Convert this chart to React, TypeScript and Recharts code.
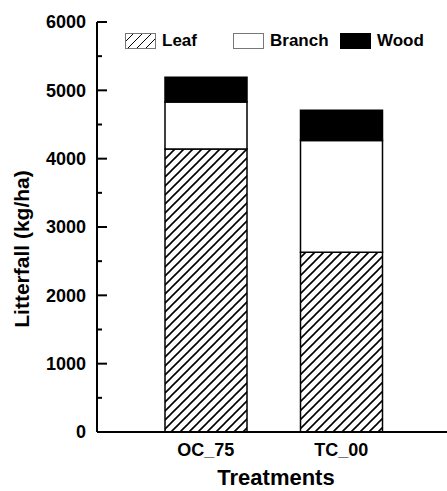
import { BarChart, Bar, XAxis, YAxis, Legend } from 'recharts';

const treatments = ['OC_75', 'TC_00'];
const leaf = [4140, 2630];
const branch = [690, 1635];
const wood = [360, 445];
const yTicks = [0, 500, 1000, 1500, 2000, 2500, 3000, 3500, 4000, 4500, 5000, 5500, 6000];

const data = treatments.map((name, i) => ({
    name,
    Leaf: leaf[i],
    Branch: branch[i],
    Wood: wood[i],
}));

const font = 'Arial, "Liberation Sans", Helvetica, sans-serif';

const LeftTick = (props: any) => {
    const { x, y, payload } = props;
    const major = payload.value % 1000 === 0;
    const ax = x + 11;
    return (
        <g>
            <line x1={ax} x2={ax + (major ? 10 : 5)} y1={y} y2={y} stroke="#000" strokeWidth={2} />
            {major && (
                <text x={x} y={y} dy="0.36em" textAnchor="end" fontFamily={font} fontWeight="bold" fontSize={18} fill="#000">
                    {payload.value}
                </text>
            )}
        </g>
    );
};

const RightTick = (props: any) => {
    const { x, y, payload } = props;
    const major = payload.value % 1000 === 0;
    return <line x1={x - (major ? 10 : 5)} x2={x} y1={y} y2={y} stroke="#000" strokeWidth={2} />;
};

const Swatch = ({ kind }: { kind: string }) => (
    <svg width={31} height={16} style={{ display: 'block' }}>
        <defs>
            <pattern id="hatchLegend" patternUnits="userSpaceOnUse" width="9" height="9">
                <path d="M-2,2 l4,-4 M0,9 l9,-9 M7,11 l4,-4" stroke="#000" strokeWidth={1} />
            </pattern>
        </defs>
        <rect
            x={0.5}
            y={0.5}
            width={30}
            height={15}
            fill={kind === 'Leaf' ? 'url(#hatchLegend)' : kind === 'Wood' ? '#000' : '#fff'}
            stroke={kind === 'Wood' ? '#000' : '#777'}
            strokeWidth={1}
        />
    </svg>
);

const LegendContent = () => {
    const items = [
        { name: 'Leaf', w: 108 },
        { name: 'Branch', w: 107 },
        { name: 'Wood', w: 90 },
    ];
    return (
        <div style={{ display: 'flex', alignItems: 'center', fontFamily: font, fontWeight: 'bold', fontSize: 17 }}>
            {items.map((it) => (
                <div key={it.name} style={{ display: 'flex', alignItems: 'center', width: it.w }}>
                    <Swatch kind={it.name} />
                    <span style={{ marginLeft: 6 }}>{it.name}</span>
                </div>
            ))}
        </div>
    );
};

export default function App() {
    return (
        <div style={{ position: 'absolute', left: 0, top: 0, background: '#fff' }}>
            <BarChart
                width={447}
                height={491}
                data={data}
                margin={{ top: 22, right: 0, left: 17, bottom: 0 }}
            >
                <defs>
                    <pattern id="hatch" patternUnits="userSpaceOnUse" width="9" height="9">
                        <rect width="9" height="9" fill="#fff" />
                        <path d="M-2,2 l4,-4 M0,9 l9,-9 M7,11 l4,-4" stroke="#000" strokeWidth={1.6} />
                    </pattern>
                </defs>
                <XAxis
                    dataKey="name"
                    padding={{ left: 41, right: 38 }}
                    height={59}
                    axisLine={{ stroke: '#000', strokeWidth: 2 }}
                    tickLine={false}
                    tickSize={0}
                    tickMargin={11}
                    tick={{ fill: '#000', fontSize: 18, fontWeight: 'bold', fontFamily: font }}
                    label={{
                        value: 'Treatments',
                        position: 'insideBottom',
                        offset: 6,
                        dx: 4,
                        style: { fill: '#000', fontSize: 22, fontWeight: 'bold', fontFamily: font },
                    }}
                />
                <YAxis
                    yAxisId="left"
                    width={80}
                    domain={[0, 6000]}
                    ticks={yTicks}
                    interval={0}
                    axisLine={{ stroke: '#000', strokeWidth: 2 }}
                    tickLine={false}
                    tickSize={0}
                    tickMargin={11}
                    tick={<LeftTick />}
                    label={{
                        value: 'Litterfall (kg/ha)',
                        angle: -90,
                        position: 'insideLeft',
                        offset: 5,
                        dy: 22,
                        style: { textAnchor: 'middle', fill: '#000', fontSize: 21, fontWeight: 'bold', fontFamily: font },
                    }}
                />
                <YAxis
                    yAxisId="right"
                    orientation="right"
                    width={0}
                    domain={[0, 6000]}
                    ticks={yTicks}
                    interval={0}
                    axisLine={false}
                    tickLine={false}
                    tickSize={0}
                    tickMargin={0}
                    tick={<RightTick />}
                />
                <Legend
                    verticalAlign="middle"
                    layout="horizontal"
                    content={<LegendContent />}
                    wrapperStyle={{ top: 31, left: 125, width: 320 }}
                />
                <Bar yAxisId="left" dataKey="Leaf" stackId="a" barSize={82} fill="url(#hatch)" stroke="#000" strokeWidth={1.5} isAnimationActive={false} />
                <Bar yAxisId="left" dataKey="Branch" stackId="a" barSize={82} fill="#fff" stroke="#000" strokeWidth={1.5} isAnimationActive={false} />
                <Bar yAxisId="left" dataKey="Wood" stackId="a" barSize={82} fill="#000" stroke="#000" strokeWidth={1.5} isAnimationActive={false} />
            </BarChart>
        </div>
    );
}
